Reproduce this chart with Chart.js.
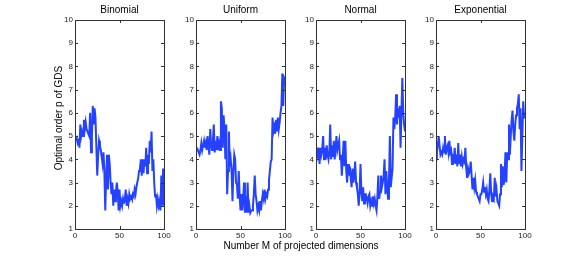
<!DOCTYPE html>
<html>
<head>
<meta charset="utf-8">
<script src="https://cdn.jsdelivr.net/npm/chart.js@4"></script>
<style>
  body { margin: 0; background: #fff; width: 582px; height: 258px; position: relative; overflow: hidden; font-family: "Liberation Sans", Arial, sans-serif; }
  canvas { position: absolute; top: 0; }
  .lbl { position: absolute; font-size: 10px; color: #000; white-space: nowrap; text-align: center; height: 12px; line-height: 12px; }
  #xlab { width: 200px; left: 201px; top: 240px; }
  #ylab { width: 140px; left: -11px; top: 112px; transform: rotate(-90deg); }
</style>
</head>
<body>
<canvas id="c0" width="121" height="258"></canvas>
<canvas id="c1" width="121" height="258"></canvas>
<canvas id="c2" width="121" height="258"></canvas>
<canvas id="c3" width="121" height="258"></canvas>
<div class="lbl" id="xlab">Number M of projected dimensions</div>
<div class="lbl" id="ylab">Optimal order p of GDS</div>
<script>
// panel titles
const titles = ['Binomial', 'Uniform', 'Normal', 'Exponential'];
const yTicks = [1, 2, 3, 4, 5, 6, 7, 8, 9, 10];
const xTicks = [0, 50, 100];

// values (x = M, y = optimal p)
const binomialX = [1,2,3,4,5,6,7,8,9,10,11,12,13,14,15,16,17,18,19,20,21,22,23,24,25,26,27,28,29,30,31,32,33,34,35,36,37,38,39,40,41,42,43,44,45,46,47,48,49,50,51,52,53,54,55,56,57,58,59,60,61,62,63,64,65,66,67,68,69,70,71,72,73,74,75,76,77,78,79,80,81,82,83,84,85,86,87,88,89,90,91,92,93,94,95,96,97,98,99,100];
const binomialY = [4.8,4.9,4.7,4.8,4.5,5.5,5.0,5.2,5.0,5.7,5.3,5.6,5.3,5.2,5.1,5.0,6.0,4.3,5.0,6.3,5.5,6.2,5.8,4.5,3.3,4.2,4.8,4.6,4.4,4.1,3.8,4.3,3.5,1.8,3.2,4.2,2.7,4.2,3.8,3.0,2.5,3.0,2.0,2.7,2.2,2.6,3.0,2.6,1.8,2.7,2.0,2.2,2.0,2.3,2.1,2.3,2.7,2.0,2.3,2.1,2.5,2.3,2.4,2.3,2.5,2.4,2.7,2.5,2.8,3.0,3.2,3.5,3.6,4.0,3.3,4.0,3.4,4.0,3.7,4.5,3.4,4.2,3.8,4.8,4.3,5.2,3.5,4.0,3.0,2.4,2.5,2.0,2.3,2.0,2.2,1.8,3.3,2.0,3.6,2.0];

const uniformX = [1,2,3,4,5,6,7,8,9,10,11,12,13,14,15,16,17,18,19,20,21,22,23,24,25,26,27,28,29,30,31,32,33,34,35,36,37,38,39,40,41,42,43,44,45,46,47,48,49,50,51,52,53,54,55,56,57,58,59,60,61,62,63,64,65,66,67,68,69,70,71,72,73,74,75,76,77,78,79,80,81,82,83,84,85,86,87,88,89,90,91,92,93,94,95,96,97,98,99,100];
const uniformY = [4.5,4.4,4.3,4.2,4.4,4.7,4.4,4.6,4.8,4.5,4.7,4.4,5.0,4.6,4.2,5.3,4.6,4.4,4.8,5.5,4.3,4.8,4.4,5.0,4.4,4.7,4.4,6.5,6.2,4.5,5.9,5.3,4.0,5.5,2.5,3.5,5.2,3.7,4.0,3.5,2.2,3.5,4.2,4.0,3.0,2.9,2.3,3.5,2.5,1.8,2.5,1.8,2.3,3.0,1.7,2.4,1.7,3.0,1.7,2.0,1.7,1.8,1.8,2.0,2.5,3.3,2.5,2.2,1.8,2.0,1.8,2.2,1.8,2.2,2.5,2.3,2.7,2.3,2.5,2.4,2.7,3.1,3.5,3.9,4.0,5.8,5.2,5.4,5.1,5.7,5.2,5.8,5.3,5.6,6.0,6.3,7.7,6.3,7.5,7.4];

const normalX = [0,1,2,3,4,5,6,7,8,9,10,11,12,13,14,15,16,17,18,19,20,21,22,23,24,25,26,27,28,29,30,31,32,33,34,35,36,37,38,39,40,41,42,43,44,45,46,47,48,49,50,51,52,53,54,55,56,57,58,59,60,61,62,63,64,65,66,67,68,69,70,71,72,73,74,75,76,77,78,79,80,81,82,83,84,85,86,87,88,89,90,91,92,93,94,95,96,97,98,99,100];
const normalY = [4.1,4.5,4.2,4.5,3.8,4.5,4.2,4.4,5.0,4.0,4.5,4.0,4.6,4.2,4.0,4.3,5.5,4.0,4.6,4.1,4.8,4.0,4.5,5.0,4.4,4.6,4.8,4.0,4.2,3.3,4.0,4.8,3.7,4.8,3.5,3.0,3.8,3.3,3.7,3.2,2.8,3.6,3.0,3.3,3.9,3.0,2.8,2.5,2.0,2.6,3.8,2.6,2.2,2.8,2.1,2.5,2.5,2.3,2.1,2.4,2.5,2.0,2.2,2.0,2.4,2.1,2.3,2.0,1.8,2.4,3.3,2.3,2.6,3.3,2.8,3.0,3.3,4.0,2.5,3.5,2.8,2.3,3.0,5.0,2.8,3.2,3.6,5.8,5.3,5.8,6.8,5.5,6.2,5.8,6.3,4.5,6.0,7.5,6.0,5.5,5.2];

const exponentialX = [0,1,2,3,4,5,6,7,8,9,10,11,12,13,14,15,16,17,18,19,20,21,22,23,24,25,26,27,28,29,30,31,32,33,34,35,36,37,38,39,40,41,42,43,44,45,46,47,48,49,50,51,52,53,54,55,56,57,58,59,60,61,62,63,64,65,66,67,68,69,70,71,72,73,74,75,76,77,78,79,80,81,82,83,84,85,86,87,88,89,90,91,92,93,94,95,96,97,98,99,100];
const exponentialY = [4.0,4.3,4.6,5.0,4.6,4.2,4.3,4.2,4.5,4.3,5.0,4.2,4.5,4.6,4.3,4.8,4.3,4.4,3.8,4.1,4.0,4.5,3.8,4.2,3.7,4.7,3.8,4.2,3.7,4.1,3.8,4.0,3.9,4.5,3.6,3.2,3.6,3.4,3.5,3.9,3.3,2.7,3.2,2.8,3.1,2.6,2.5,2.4,2.3,2.2,2.5,2.5,2.7,3.0,2.6,2.8,2.5,2.7,2.3,2.2,2.7,3.4,2.5,2.2,2.4,2.3,3.2,2.4,2.7,2.2,2.1,2.0,2.5,3.8,2.8,3.7,2.9,3.2,4.3,3.0,4.3,4.0,5.5,4.2,5.0,5.7,6.1,5.2,4.8,5.5,5.9,6.2,6.4,6.8,5.3,6.2,3.5,5.0,6.5,5.8,5.8];

const seriesX = [binomialX, uniformX, normalX, exponentialX];
const seriesY = [binomialY, uniformY, normalY, exponentialY];

// left edge of each axes box
const axisLeft = [75, 196, 316, 436];

// matlab-like box with inward ticks
const boxPlugin = {
    id: 'box',
    afterDraw(chart) {
        const ctx = chart.ctx;
        const a = chart.chartArea;
        const xs = chart.scales.x, ys = chart.scales.y;
        ctx.save();
        ctx.strokeStyle = '#333';
        ctx.lineWidth = 1;
        ctx.strokeRect(Math.round(a.left) + 0.5, Math.round(a.top) + 0.5,
            Math.round(a.right - a.left), Math.round(a.bottom - a.top));
        ctx.beginPath();
        yTicks.forEach(v => {
            const y = Math.round(ys.getPixelForValue(v)) + 0.5;
            ctx.moveTo(a.left, y); ctx.lineTo(a.left + 3, y);
            ctx.moveTo(a.right, y); ctx.lineTo(a.right - 3, y);
        });
        xTicks.forEach(v => {
            const x = Math.round(xs.getPixelForValue(v)) + 0.5;
            ctx.moveTo(x, a.bottom); ctx.lineTo(x, a.bottom - 3);
            ctx.moveTo(x, a.top); ctx.lineTo(x, a.top + 3);
        });
        ctx.stroke();
        ctx.restore();
    }
};

const tickFont = { family: '"Liberation Sans", Arial, sans-serif', size: 8 };

for (let i = 0; i < 4; i++) {
    const cv = document.getElementById('c' + i);
    cv.style.left = (axisLeft[i] - 22) + 'px';
    const pts = seriesX[i].map((x, k) => ({ x: x, y: seriesY[i][k] }));
    new Chart(cv.getContext('2d'), {
        type: 'line',
        data: {
            datasets: [{
                data: pts,
                borderColor: '#2442ff',
                borderWidth: 2,
                pointRadius: 0,
                tension: 0,
                fill: false
            }]
        },
        options: {
            responsive: false,
            animation: false,
            events: [],
            layout: { padding: { left: 0, right: 10, top: 0, bottom: 0 } },
            plugins: {
                legend: { display: false },
                tooltip: { enabled: false },
                title: {
                    display: true,
                    fullSize: false,
                    text: titles[i],
                    color: '#000',
                    font: { family: '"Liberation Sans", Arial, sans-serif', size: 10, weight: 'normal' },
                    padding: { top: 4, bottom: 4 }
                }
            },
            scales: {
                x: {
                    type: 'linear',
                    min: 0, max: 100,
                    afterBuildTicks: s => { s.ticks = xTicks.map(v => ({ value: v })); },
                    grid: { display: false, drawTicks: false },
                    border: { display: false },
                    ticks: { font: tickFont, color: '#222', padding: 2, maxRotation: 0 },
                    afterFit: s => { s.height = 29; }
                },
                y: {
                    type: 'linear',
                    min: 1, max: 10,
                    afterBuildTicks: s => { s.ticks = yTicks.map(v => ({ value: v })); },
                    grid: { display: false, drawTicks: false },
                    border: { display: false },
                    ticks: { font: tickFont, color: '#222', padding: 2 },
                    afterFit: s => { s.width = 22; }
                }
            }
        },
        plugins: [boxPlugin]
    });
}
</script>
</body>
</html>
